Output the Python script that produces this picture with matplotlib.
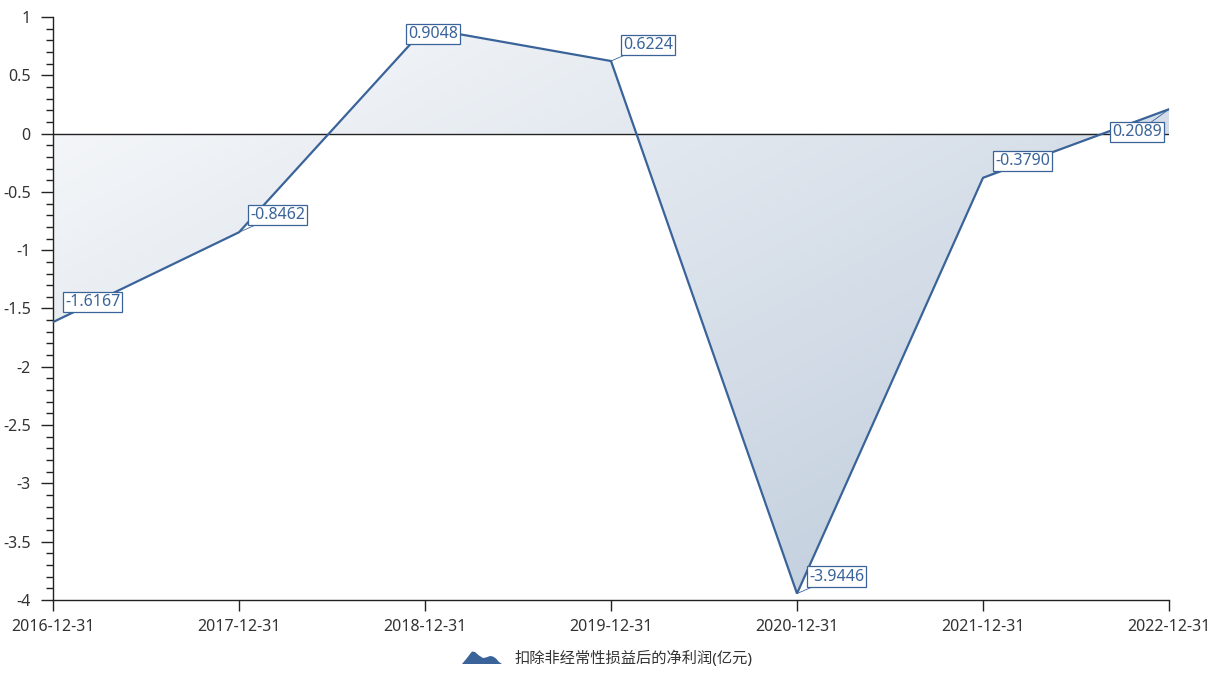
import matplotlib
matplotlib.use("Agg")
import matplotlib.pyplot as plt
import numpy as np
from matplotlib.patches import Polygon
from matplotlib.ticker import MultipleLocator, FormatStrFormatter

plt.rcParams['font.family'] = ['Noto Sans', 'Noto Sans CJK SC', 'DejaVu Sans']
plt.rcParams['axes.unicode_minus'] = False

categories = ["2016-12-31", "2017-12-31", "2018-12-31", "2019-12-31",
              "2020-12-31", "2021-12-31", "2022-12-31"]
values = [-1.6167, -0.8462, 0.9048, 0.6224, -3.9446, -0.3790, 0.2089]
series_name = "扣除非经常性损益后的净利润(亿元)"

# label placement (layout only): pixel offset, horizontal / vertical alignment
label_offsets = [(12, 12), (11, 9), (-17, -14), (12, 8), (12, 9), (12, 9), (-7, -15)]
label_align = [("left", "bottom")] * 6 + [("right", "top")]

line_color = "#3a6499"
text_color = "#333333"

W, H = 1219, 686
fig = plt.figure(figsize=(W / 100, H / 100), dpi=100)
ax = fig.add_axes([53 / W, (H - 600) / H, (1169 - 53) / W, (600 - 17) / H])

x = np.arange(len(categories))
ax.set_xlim(0, len(categories) - 1)
ax.set_ylim(-4, 1)

# gradient fill between line and zero
verts = [(x[0], 0)] + list(zip(x, values)) + [(x[-1], 0)]
poly = Polygon(verts, closed=True, facecolor="none", edgecolor="none")
ax.add_patch(poly)
n = 256
gx, gy = np.meshgrid(np.linspace(0, 1, n), np.linspace(0, 1, n))
t = (gx + gy) / 2.0
c0 = np.array([0xfa, 0xfb, 0xfc]) / 255
c1 = np.array([0xbb, 0xc9, 0xda]) / 255
img = c0[None, None, :] * (1 - t[..., None]) + c1[None, None, :] * t[..., None]
im = ax.imshow(img, extent=[0, 1, 0, 1], transform=ax.transAxes, origin="upper",
               aspect="auto", zorder=1, interpolation="bilinear")
im.set_clip_path(poly)

ax.plot(x, values, color=line_color, lw=1.6, zorder=3, solid_joinstyle="miter")
ax.axhline(0, color="#222222", lw=1.0, zorder=2)

for xi, v, (dx, dy), (ha, va) in zip(x, values, label_offsets, label_align):
    ax.annotate(f"{v:.4f}", xy=(xi, v), xytext=(dx, dy), textcoords="offset pixels",
                ha=ha, va=va, fontsize=11.5, color=line_color, zorder=5,
                bbox=dict(boxstyle="square,pad=0.13", fc="white", ec=line_color, lw=0.9),
                arrowprops=dict(arrowstyle="-", color=line_color, lw=0.6,
                                shrinkA=0, shrinkB=0),
                annotation_clip=False)

for s in ["top", "right"]:
    ax.spines[s].set_visible(False)
for s in ["left", "bottom"]:
    ax.spines[s].set_color("#222222")
    ax.spines[s].set_linewidth(1.0)

ax.set_xticks(x)
ax.set_xticklabels(categories)
ax.yaxis.set_major_locator(MultipleLocator(0.5))
ax.yaxis.set_minor_locator(MultipleLocator(0.1))
ax.yaxis.set_major_formatter(FormatStrFormatter("%g"))
ax.tick_params(axis="y", which="major", length=9, width=1, color="#222222",
               labelsize=11.5, labelcolor=text_color, pad=7)
ax.tick_params(axis="y", which="minor", length=5, width=1, color="#222222")
ax.tick_params(axis="x", which="major", length=8, width=1, color="#222222",
               labelsize=11.5, labelcolor=text_color, pad=6)

# legend
lx, ly = 462, 664
icon = [(0, 0), (5, -6), (8, -10), (10, -12.5), (13, -12), (17, -8.5), (21, -6),
        (24, -6.5), (28, -8), (31, -7.5), (34, -5.5), (37, -2), (40, 0)]
icon_fig = [((lx + px) / W, (H - (ly + py)) / H) for px, py in icon]
fig.patches.append(Polygon(icon_fig, closed=True, transform=fig.transFigure,
                           facecolor=line_color, edgecolor="none"))
fig.text(515 / W, (H - 659) / H, series_name, fontsize=11, color=text_color,
         ha="left", va="center")

fig.savefig("out.png", dpi=100)
